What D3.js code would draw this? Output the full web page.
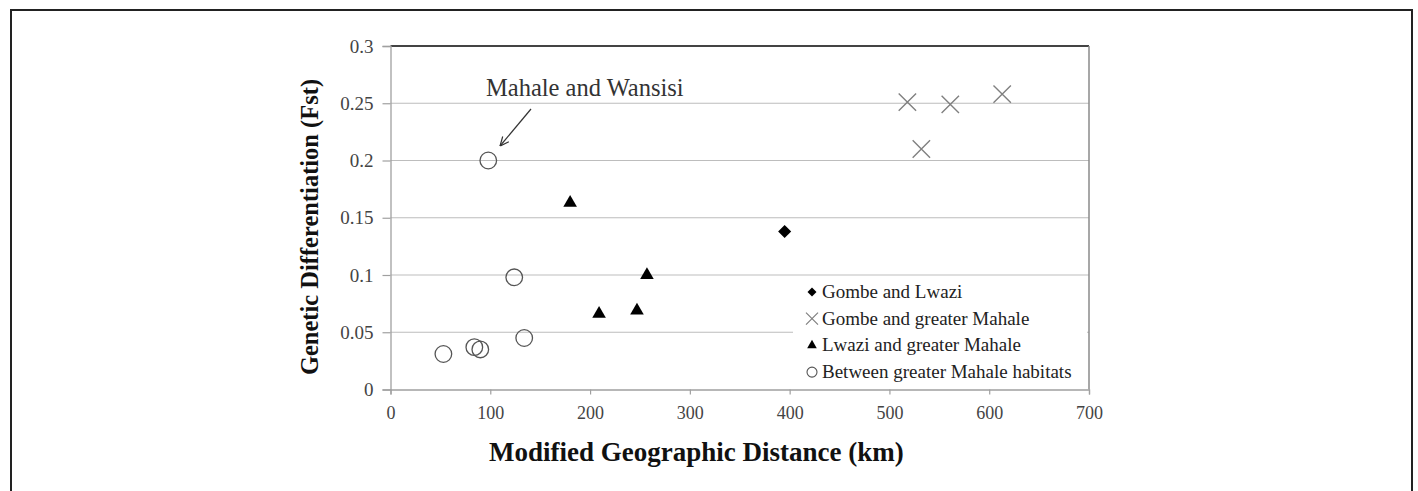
<!DOCTYPE html>
<html>
<head>
<meta charset="utf-8">
<script src="https://cdn.jsdelivr.net/npm/d3@7"></script>
<style>
  body { margin: 0; background: #fff; }
  text { font-family: "Liberation Serif", "Times New Roman", serif; }
</style>
</head>
<body>
<div id="chart"></div>
<script>
// values
const gombeLwazi = [[395, 0.138]];
const gombeMahale = [[518, 0.251], [561, 0.249], [613, 0.258], [532, 0.210]];
const lwaziMahale = [[180, 0.163], [257, 0.100], [209, 0.066], [247, 0.069]];
const betweenMahale = [[98, 0.200], [124, 0.098], [134, 0.045], [53, 0.031], [84, 0.037], [90, 0.035]];
const xTicks = [0, 100, 200, 300, 400, 500, 600, 700];
const yTicks = [0, 0.05, 0.1, 0.15, 0.2, 0.25, 0.3];
const legendLabels = ["Gombe and Lwazi", "Gombe and greater Mahale", "Lwazi and greater Mahale", "Between greater Mahale habitats"];

const width = 1418, height = 491;

const svg = d3.select("#chart").append("svg")
    .attr("width", width)
    .attr("height", height);

// outer frame
svg.append("rect")
    .attr("x", 11).attr("y", 10)
    .attr("width", 1401).attr("height", 500)
    .attr("fill", "none")
    .attr("stroke", "#222")
    .attr("stroke-width", 2);

const x = d3.scaleLinear().domain([0, 700]).range([390.5, 1089]);
const y = d3.scaleLinear().domain([0, 0.3]).range([389.5, 46]);

// gridlines
svg.selectAll(".grid")
    .data(yTicks.filter(d => d > 0 && d < 0.3))
    .enter().append("line")
    .attr("class", "grid")
    .attr("x1", x(0)).attr("x2", x(700))
    .attr("y1", d => y(d)).attr("y2", d => y(d))
    .attr("stroke", "#bdbdbd")
    .attr("stroke-width", 1.2);

// plot area border: top and right
svg.append("line")
    .attr("x1", x(0)).attr("x2", x(700))
    .attr("y1", y(0.3)).attr("y2", y(0.3))
    .attr("stroke", "#444").attr("stroke-width", 1.8);
svg.append("line")
    .attr("x1", x(700)).attr("x2", x(700))
    .attr("y1", y(0.3)).attr("y2", y(0))
    .attr("stroke", "#8a8a8a").attr("stroke-width", 1.5);

// axes
const yAxis = svg.append("g")
    .attr("transform", `translate(${x(0)},0)`)
    .call(d3.axisLeft(y).tickValues(yTicks).tickSize(8).tickPadding(9)
        .tickFormat(d => d === 0 ? "0" : String(+d.toFixed(2))));
const xAxis = svg.append("g")
    .attr("transform", `translate(0,${y(0)})`)
    .call(d3.axisBottom(x).tickValues(xTicks).tickSize(5).tickPadding(12));

[xAxis, yAxis].forEach(a => {
    a.attr("font-family", "Liberation Serif");
    a.select(".domain").attr("stroke", "#a0a0a0").attr("stroke-width", 1.3);
    a.selectAll(".tick line").attr("stroke", "#a0a0a0").attr("stroke-width", 1.2);
    a.selectAll(".tick text")
        .attr("fill", "#444")
        .style("font-size", "19px");
});
xAxis.selectAll(".tick text").style("font-size", "18px");

// legend box (hides the gridline behind it)
svg.append("rect")
    .attr("x", 793).attr("y", 279)
    .attr("width", 294).attr("height", 109)
    .attr("fill", "#fff");

const symCol = "#000", xCol = "#808080", circCol = "#555";

function crossPath(cx, cy, r) {
    return `M${cx - r},${cy - r}L${cx + r},${cy + r}M${cx - r},${cy + r}L${cx + r},${cy - r}`;
}

// series
svg.selectAll(".circ")
    .data(betweenMahale)
    .enter().append("circle")
    .attr("cx", d => x(d[0])).attr("cy", d => y(d[1]))
    .attr("r", 8.3)
    .attr("fill", "none")
    .attr("stroke", circCol)
    .attr("stroke-width", 1.3);

svg.selectAll(".tri")
    .data(lwaziMahale)
    .enter().append("path")
    .attr("transform", d => `translate(${x(d[0])},${y(d[1])})`)
    .attr("d", d3.symbol(d3.symbolTriangle, 80))
    .attr("fill", symCol);

svg.selectAll(".dia")
    .data(gombeLwazi)
    .enter().append("path")
    .attr("transform", d => `translate(${x(d[0])},${y(d[1])}) rotate(45)`)
    .attr("d", d3.symbol(d3.symbolSquare, 85))
    .attr("fill", symCol);

svg.selectAll(".cross")
    .data(gombeMahale)
    .enter().append("path")
    .attr("d", d => crossPath(x(d[0]), y(d[1]), 8.7))
    .attr("stroke", xCol)
    .attr("stroke-width", 1.4)
    .attr("fill", "none");

// legend
const lg = svg.append("g").attr("transform", "translate(812,292)");
const rowH = 26.7;
legendLabels.forEach((lab, i) => {
    const gy = i * rowH;
    const row = lg.append("g").attr("transform", `translate(0,${gy})`);
    if (i === 0) {
        row.append("path").attr("transform", "rotate(45)")
            .attr("d", d3.symbol(d3.symbolSquare, 40)).attr("fill", symCol);
    } else if (i === 1) {
        row.append("path").attr("d", crossPath(0, 0, 6))
            .attr("stroke", xCol).attr("stroke-width", 1.2).attr("fill", "none");
    } else if (i === 2) {
        row.append("path").attr("d", d3.symbol(d3.symbolTriangle, 40)).attr("fill", symCol);
    } else {
        row.append("circle").attr("r", 5).attr("fill", "none")
            .attr("stroke", circCol).attr("stroke-width", 1.1);
    }
    row.append("text")
        .attr("x", 10).attr("y", 6)
        .attr("fill", "#222")
        .style("font-size", "19px")
        .text(lab);
});

// annotation
svg.append("defs").append("marker")
    .attr("id", "arrowhead")
    .attr("viewBox", "-10 -5 10 10")
    .attr("refX", 0).attr("refY", 0)
    .attr("orient", "auto")
    .attr("markerWidth", 10).attr("markerHeight", 10)
    .attr("markerUnits", "userSpaceOnUse")
    .append("path")
    .attr("d", "M-9,-4L0,0L-9,4")
    .attr("fill", "none")
    .attr("stroke", "#333")
    .attr("stroke-width", 1.2);

svg.append("line")
    .attr("x1", 531).attr("y1", 109)
    .attr("x2", 500).attr("y2", 146)
    .attr("stroke", "#333")
    .attr("stroke-width", 1.2)
    .attr("marker-end", "url(#arrowhead)");

svg.append("text")
    .attr("x", 486).attr("y", 96)
    .attr("fill", "#333")
    .style("font-size", "24.5px")
    .text("Mahale and Wansisi");

// axis titles
svg.append("text")
    .attr("x", 489).attr("y", 461)
    .attr("fill", "#111")
    .style("font-size", "27px")
    .style("font-weight", "bold")
    .text("Modified Geographic Distance (km)");

svg.append("text")
    .attr("transform", "translate(318,227) rotate(-90)")
    .attr("text-anchor", "middle")
    .attr("fill", "#111")
    .style("font-size", "24.5px")
    .style("font-weight", "bold")
    .text("Genetic Differentiation (Fst)");
</script>
</body>
</html>
